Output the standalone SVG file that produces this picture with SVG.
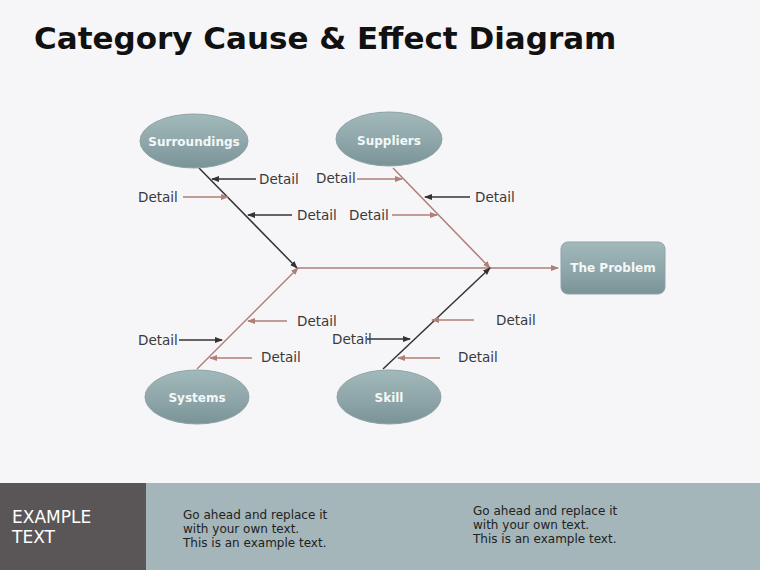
<svg xmlns="http://www.w3.org/2000/svg" width="760" height="570" viewBox="0 0 760 570">
<defs>
<style>
.t{font-family:"DejaVu Sans","Liberation Sans",sans-serif;font-size:13.5px;fill:#3a3a3a}
.n{font-family:"DejaVu Sans","Liberation Sans",sans-serif;font-size:12px;font-weight:bold;fill:#f4f8f8;text-anchor:middle}
.d{stroke:#333;stroke-width:1.5;marker-end:url(#ad)}
.p{stroke:#b07f78;stroke-width:1.5;marker-end:url(#ap)}
.node{fill:url(#g);stroke:#8fa3a6;stroke-width:1}
.f{font-family:"DejaVu Sans","Liberation Sans",sans-serif;font-size:12px;fill:#222}
</style>
<linearGradient id="g" x1="0" y1="0" x2="0" y2="1"><stop offset="0" stop-color="#a2b9bb"/><stop offset="0.55" stop-color="#8ea6a9"/><stop offset="1" stop-color="#7a9396"/></linearGradient>
<marker id="ad" markerWidth="8" markerHeight="8" refX="7" refY="4" orient="auto" markerUnits="userSpaceOnUse"><path d="M0,1 L8,4 L0,7z" fill="#333"/></marker>
<marker id="ap" markerWidth="8" markerHeight="8" refX="7" refY="4" orient="auto" markerUnits="userSpaceOnUse"><path d="M0,1 L8,4 L0,7z" fill="#b07f78"/></marker>
</defs>
<rect width="760" height="570" fill="#f6f5f7"/>
<text x="34" y="49" style="font-family:'DejaVu Sans','Liberation Sans',sans-serif;font-size:31px;font-weight:bold;fill:#111">Category Cause &amp; Effect Diagram</text>
<g id="connectors" fill="none">
<line class="p" x1="298" y1="268" x2="558" y2="268"/>
<line class="d" x1="199" y1="168" x2="297" y2="268"/>
<line class="p" x1="393" y1="168" x2="490" y2="268"/>
<line class="p" x1="197" y1="369" x2="298" y2="268"/>
<line class="d" x1="383" y1="369" x2="490" y2="268"/>
<line class="d" x1="256" y1="179" x2="212" y2="179"/>
<line class="p" x1="183" y1="197" x2="228" y2="197"/>
<line class="d" x1="292" y1="215" x2="248" y2="215"/>
<line class="p" x1="357" y1="179" x2="402" y2="179"/>
<line class="d" x1="470" y1="197" x2="425" y2="197"/>
<line class="p" x1="392" y1="215" x2="437" y2="215"/>
<line class="p" x1="287" y1="321" x2="248" y2="321"/>
<line class="d" x1="179" y1="340" x2="222" y2="340"/>
<line class="p" x1="252" y1="358" x2="210" y2="358"/>
<line class="p" x1="474" y1="320" x2="432" y2="320"/>
<line class="d" x1="367" y1="339" x2="410" y2="339"/>
<line class="p" x1="440" y1="358" x2="398" y2="358"/>
</g>
<g id="labels">
<text class="t" x="259" y="184">Detail</text>
<text class="t" x="138" y="202">Detail</text>
<text class="t" x="297" y="220">Detail</text>
<text class="t" x="316" y="183">Detail</text>
<text class="t" x="475" y="202">Detail</text>
<text class="t" x="349" y="220">Detail</text>
<text class="t" x="297" y="326">Detail</text>
<text class="t" x="138" y="345">Detail</text>
<text class="t" x="261" y="362">Detail</text>
<text class="t" x="496" y="325">Detail</text>
<text class="t" x="332" y="344">Detail</text>
<text class="t" x="458" y="362">Detail</text>
</g>
<g id="surroundings"><ellipse class="node" cx="194" cy="141" rx="54" ry="27"/><text class="n" x="194" y="146">Surroundings</text></g>
<g id="suppliers"><ellipse class="node" cx="389" cy="139" rx="53" ry="27"/><text class="n" x="389" y="145">Suppliers</text></g>
<g id="systems"><ellipse class="node" cx="197" cy="397" rx="52" ry="27"/><text class="n" x="197" y="402">Systems</text></g>
<g id="skill"><ellipse class="node" cx="389" cy="397" rx="52" ry="27"/><text class="n" x="389" y="402">Skill</text></g>
<g id="problem"><rect class="node" x="561" y="242" width="104" height="52" rx="7"/><text class="n" x="613" y="272">The Problem</text></g>
<g id="footer">
<rect x="0" y="483" width="760" height="87" fill="#a4b6b9"/>
<rect x="0" y="483" width="146" height="87" fill="#5a5658"/>
<text x="12" y="523" style="font-family:'DejaVu Sans','Liberation Sans',sans-serif;font-size:17px;fill:#fff">EXAMPLE</text>
<text x="12" y="543" style="font-family:'DejaVu Sans','Liberation Sans',sans-serif;font-size:17px;fill:#fff">TEXT</text>
<text class="f" x="183" y="519">Go ahead and replace it</text>
<text class="f" x="183" y="533">with your own text.</text>
<text class="f" x="183" y="547">This is an example text.</text>
<text class="f" x="473" y="515">Go ahead and replace it</text>
<text class="f" x="473" y="529">with your own text.</text>
<text class="f" x="473" y="543">This is an example text.</text>
</g>
</svg>
